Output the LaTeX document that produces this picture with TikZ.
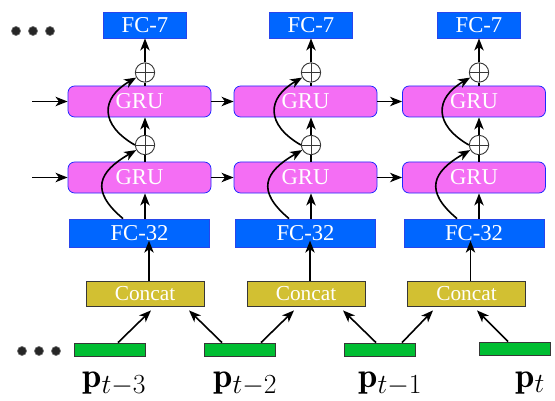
\documentclass[tikz,border=0pt]{standalone}
\usepackage{fontspec}
\newfontfamily\boxfont{Liberation Serif}
\usetikzlibrary{arrows.meta,calc}
\DeclareMathSizes{26}{26}{20.5}{15}
\definecolor{fcblue}{RGB}{0,102,255}
\definecolor{fcedge}{RGB}{40,70,235}
\definecolor{grupink}{RGB}{244,110,244}
\definecolor{gruedge}{RGB}{30,40,255}
\definecolor{concatc}{RGB}{210,192,50}
\definecolor{darkedge}{RGB}{55,55,55}
\definecolor{greenc}{RGB}{0,190,50}
\begin{document}
\begin{tikzpicture}[x=0.75pt,y=0.75pt,
 box/.style={draw, line width=0.6pt, text=white, inner sep=0pt, font=\boxfont\fontsize{17}{17}\selectfont},
 fcseven/.style={box, fill=fcblue, draw=fcedge, minimum width=62.25pt, minimum height=19.5pt},
 gru/.style={box, fill=grupink, draw=gruedge, rounded corners=5pt, minimum width=107.25pt, minimum height=23.25pt},
 fcthirtytwo/.style={box, fill=fcblue, draw=fcedge, minimum width=105pt, minimum height=21pt},
 concatbox/.style={box, fill=concatc, draw=darkedge, minimum width=88.5pt, minimum height=18.75pt, font=\boxfont\fontsize{16}{16}\selectfont},
 inp/.style={draw=darkedge, fill=greenc, line width=0.6pt, minimum width=53.25pt, minimum height=9.75pt, inner sep=0pt},
 oplus/.style={circle, draw=darkedge, line width=0.7pt, minimum size=14.5pt, inner sep=0pt,
   path picture={\draw[darkedge, line width=0.7pt] (path picture bounding box.north)--(path picture bounding box.south) (path picture bounding box.west)--(path picture bounding box.east);}},
 arr/.style={line width=1.2pt, -{Stealth[length=9pt,width=7pt,inset=2.5pt]}},
 ln/.style={line width=1.2pt},
 dotnode/.style={circle, fill=black!85, draw=black!55, line width=0.5pt, minimum size=6.8pt, inner sep=0pt},
 lab/.style={anchor=base west, inner sep=0pt, font=\fontsize{26}{26}\selectfont}]
\useasboundingbox (0,0) rectangle (555,400);

\foreach \i/\X/\G/\C in {1/145/139.5/145, 2/311/305.5/306, 3/479/474/466.5}{
  \node[fcseven] (s\i) at (\X,375) {FC-7};
  \node[oplus] (ob\i) at (\X,327.5) {};
  \node[gru] (gb\i) at (\G,298.5) {GRU};
  \node[oplus] (oa\i) at (\X,255) {};
  \node[gru] (ga\i) at (\G,222.5) {GRU};
  \node[fcthirtytwo] (f\i) at (\G,167) {FC-32};
  \node[concatbox] (c\i) at (\C,106.5) {Concat};
  \draw[arr] (ob\i.north) -- (s\i.south);
  \draw[ln] (gb\i.north -| ob\i) -- (ob\i.south);
  \draw[arr] (oa\i.north) -- (gb\i.south -| oa\i);
  \draw[ln] (ga\i.north -| oa\i) -- (oa\i.south);
  \draw[arr] (f\i.north -| oa\i) -- (ga\i.south -| oa\i);
  \draw[arr] ($(c\i.north)+(4,0)$) -- ++(0,40);
  \draw[arr] ($(f\i.north -| oa\i)+(-22,0)$) to[out=140,in=210,looseness=1.6] (oa\i.210);
  \draw[arr] (oa\i.west) to[out=150,in=210,looseness=1.55] (ob\i.210);
}

% recurrent connections
\coordinate (inb) at (32,298.5);
\coordinate (ina) at (32,222.5);
\draw[arr] (inb) -- (gb1.west);
\draw[arr] (ina) -- (ga1.west);
\draw[arr] (gb1.east) -- (gb2.west);
\draw[arr] (gb2.east) -- (gb3.west);
\draw[arr] (ga1.east) -- (ga2.west);
\draw[arr] (ga2.east) -- (ga3.west);

% inputs
\node[inp] (g1) at (110,50.5) {};
\node[inp] (g2) at (239.5,50.5) {};
\node[inp] (g3) at (379.5,50.5) {};
\node[inp] (g4) at (514.5,51.5) {};
\draw[arr] ($(g1.north)+(8,0)$) -- ($(c1.south)+(6,-4)$);
\draw[arr] ($(g2.north)+(-17.5,0)$) -- ($(c1.south)+(44,-4)$);
\draw[arr] ($(g2.north)+(21.5,0)$) -- ($(c2.south)+(-12,-4)$);
\draw[arr] ($(g3.north)+(-3.5,0)$) -- ($(c2.south)+(37,-4)$);
\draw[arr] ($(g3.north)+(22.5,0)$) -- ($(c3.south)+(-33.5,-4)$);
\draw[arr] ($(g4.north)+(-6.5,0)$) -- ($(c3.south)+(10.5,-4)$);

% labels
\node[lab] (l1) at (82,13) {$\mathbf{p}_{t-3}$};
\node[lab] (l2) at (213,13) {$\mathbf{p}_{t-2}$};
\node[lab] (l3) at (358,13) {$\mathbf{p}_{t-1}$};
\node[lab] (l4) at (515,13) {$\mathbf{p}_{t}$};

% dots
\node[dotnode] (da1) at (16,369) {};
\node[dotnode] (da2) at (33,369) {};
\node[dotnode] (da3) at (50,369) {};
\node[dotnode] (db1) at (22,49) {};
\node[dotnode] (db2) at (39,49) {};
\node[dotnode] (db3) at (56,49) {};
\end{tikzpicture}
\end{document}
